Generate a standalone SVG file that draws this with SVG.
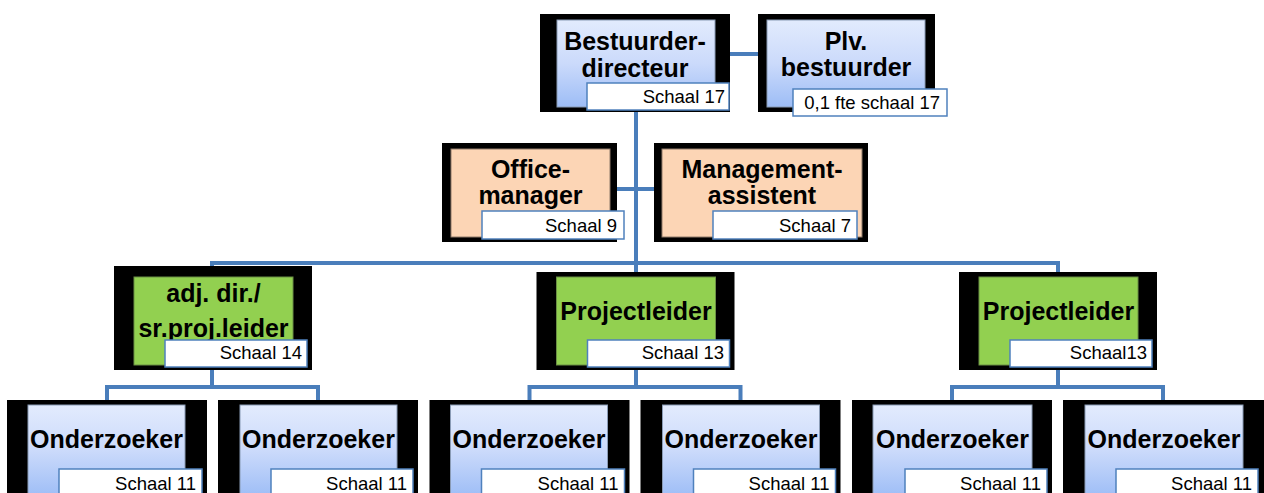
<svg xmlns="http://www.w3.org/2000/svg" width="1264" height="493" viewBox="0 0 1264 493">
<defs>
<linearGradient id="blue" x1="0" y1="0" x2="0" y2="1">
<stop offset="0" stop-color="#e2ebfd"/>
<stop offset="0.5" stop-color="#cbdafb"/>
<stop offset="1" stop-color="#9dbdf6"/>
</linearGradient>
<style>
.frame{fill:#000}
.blue{fill:url(#blue);stroke:#8a9bb5;stroke-width:1}
.orange{fill:#fcd5b5;stroke:#8f7b6a;stroke-width:1}
.green{fill:#92d050;stroke:#6b8f45;stroke-width:1}
.lab{fill:#fff;stroke:#4f81bd;stroke-width:1.5}
.t{font-family:"Liberation Sans",Arial,sans-serif;font-weight:bold;font-size:25px;fill:#000;text-anchor:middle}
.s{font-family:"Liberation Sans",Arial,sans-serif;font-size:18.5px;fill:#000;text-anchor:end}
.c{fill:none;stroke:#4a7ebb;stroke-width:4}
</style>
</defs>
<rect width="1264" height="493" fill="#fff"/>
<g id="connectors" class="c">
<path d="M715 54H767"/>
<path d="M636 108V263"/>
<path d="M610 189H662"/>
<path d="M212 263H1060"/>
<path d="M212 261V280M636 261V280M1058 261V280"/>
<path d="M212 367V387M107 387H318M107 385V405M318 385V405"/>
<path d="M636 367V387M529.5 387H740.5M529.5 385V405M740.5 385V405"/>
<path d="M1058 367V387M952 387H1163M952 385V405M1163 385V405"/>
</g>
<g id="bestuurder">
<rect class="frame" x="540" y="14" width="190" height="98"/>
<rect class="blue" x="557" y="20" width="158" height="87"/>
<text class="t" x="635" y="49.5">Bestuurder-</text>
<text class="t" x="635" y="76.5">directeur</text>
<rect class="lab" x="587" y="83" width="142" height="27"/>
<text class="s" x="725" y="103">Schaal 17</text>
</g>
<g id="plv">
<rect class="frame" x="758" y="14" width="177" height="98"/>
<rect class="blue" x="767" y="20" width="158" height="87"/>
<text class="t" x="846" y="49.5">Plv.</text>
<text class="t" x="846" y="75.5">bestuurder</text>
<rect class="lab" x="793" y="89" width="154" height="27"/>
<text class="s" x="940" y="108.5">0,1 fte schaal 17</text>
</g>
<g id="office">
<rect class="frame" x="442" y="143" width="175" height="99"/>
<rect class="orange" x="451" y="149" width="159" height="88"/>
<text class="t" x="530.5" y="178">Office-</text>
<text class="t" x="530.5" y="204">manager</text>
<rect class="lab" x="482" y="211" width="142" height="28"/>
<text class="s" x="617" y="232">Schaal 9</text>
</g>
<g id="management">
<rect class="frame" x="654" y="143" width="214" height="99"/>
<rect class="orange" x="662" y="149" width="200" height="88"/>
<text class="t" x="762" y="178">Management-</text>
<text class="t" x="762" y="204">assistent</text>
<rect class="lab" x="713" y="211" width="144" height="28"/>
<text class="s" x="851" y="232">Schaal 7</text>
</g>
<g id="adjdir">
<rect class="frame" x="114" y="266" width="198" height="104"/>
<rect class="green" x="134" y="277" width="159" height="88"/>
<text class="t" x="213.5" y="302">adj. dir./</text>
<text class="t" x="213.5" y="337">sr.proj.leider</text>
<rect class="lab" x="165" y="340" width="142" height="27"/>
<text class="s" x="302" y="359">Schaal 14</text>
</g>
<g id="projectleider1">
<rect class="frame" x="536.5" y="272" width="198" height="98"/>
<rect class="green" x="556.5" y="277" width="159" height="88"/>
<text class="t" x="636" y="320">Projectleider</text>
<rect class="lab" x="587.5" y="340" width="142" height="27"/>
<text class="s" x="724" y="359">Schaal 13</text>
</g>
<g id="projectleider2">
<rect class="frame" x="959" y="272" width="198" height="98"/>
<rect class="green" x="979" y="277" width="159" height="88"/>
<text class="t" x="1058.5" y="320">Projectleider</text>
<rect class="lab" x="1010" y="340" width="142" height="27"/>
<text class="s" x="1147" y="359">Schaal13</text>
</g>
<g id="onderzoeker1">
<rect class="frame" x="7" y="400" width="200" height="100"/>
<rect class="blue" x="28" y="405" width="157" height="92"/>
<text class="t" x="106.5" y="448">Onderzoeker</text>
<rect class="lab" x="59" y="469" width="143" height="30"/>
<text class="s" x="196" y="490">Schaal 11</text>
</g>
<g id="onderzoeker2">
<rect class="frame" x="218" y="400" width="200" height="100"/>
<rect class="blue" x="240" y="405" width="157" height="92"/>
<text class="t" x="318.5" y="448">Onderzoeker</text>
<rect class="lab" x="271" y="469" width="142" height="30"/>
<text class="s" x="407" y="490">Schaal 11</text>
</g>
<g id="onderzoeker3">
<rect class="frame" x="429.5" y="400" width="200" height="100"/>
<rect class="blue" x="450.5" y="405" width="157" height="92"/>
<text class="t" x="529" y="448">Onderzoeker</text>
<rect class="lab" x="481.5" y="469" width="143" height="30"/>
<text class="s" x="618.5" y="490">Schaal 11</text>
</g>
<g id="onderzoeker4">
<rect class="frame" x="640.5" y="400" width="200" height="100"/>
<rect class="blue" x="662.5" y="405" width="157" height="92"/>
<text class="t" x="741" y="448">Onderzoeker</text>
<rect class="lab" x="693.5" y="469" width="142" height="30"/>
<text class="s" x="829.5" y="490">Schaal 11</text>
</g>
<g id="onderzoeker5">
<rect class="frame" x="852" y="400" width="200" height="100"/>
<rect class="blue" x="873" y="405" width="159" height="92"/>
<text class="t" x="952.5" y="448">Onderzoeker</text>
<rect class="lab" x="905" y="469" width="142" height="30"/>
<text class="s" x="1041" y="490">Schaal 11</text>
</g>
<g id="onderzoeker6">
<rect class="frame" x="1063" y="400" width="201" height="100"/>
<rect class="blue" x="1085" y="405" width="158" height="92"/>
<text class="t" x="1164" y="448">Onderzoeker</text>
<rect class="lab" x="1116" y="469" width="142" height="30"/>
<text class="s" x="1252" y="490">Schaal 11</text>
</g>
</svg>
